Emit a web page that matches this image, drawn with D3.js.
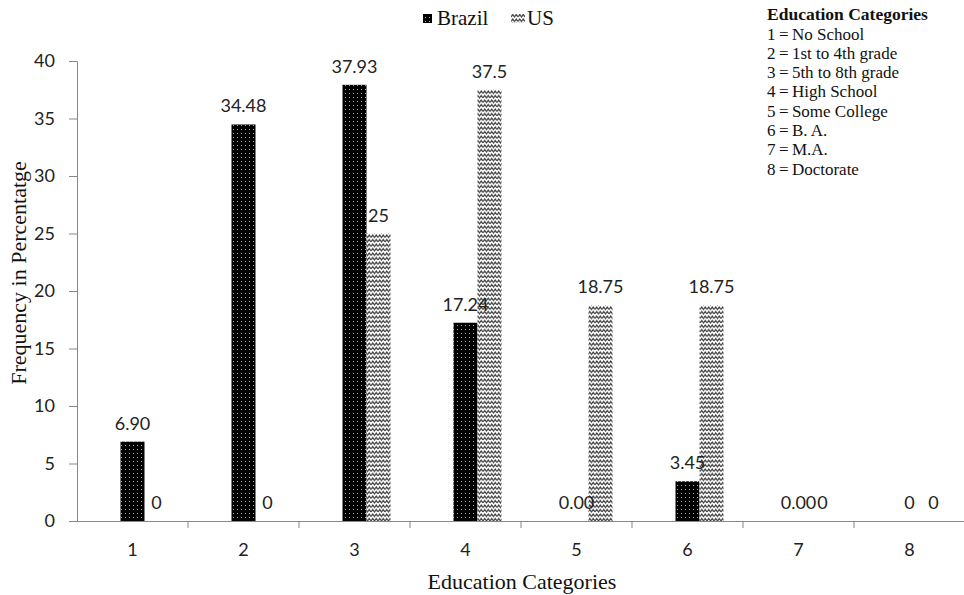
<!DOCTYPE html>
<html>
<head>
<meta charset="utf-8">
<script src="https://cdn.jsdelivr.net/npm/d3@7"></script>
<style>
  html, body { margin: 0; padding: 0; background: #fff; }
  svg { display: block; }
</style>
</head>
<body>
<svg id="chart" width="964" height="595"></svg>
<script>
// ---- data ----
const categories = ["1", "2", "3", "4", "5", "6", "7", "8"];
const brazil = [6.90, 34.48, 37.93, 17.24, 0.00, 3.45, 0.00, 0];
const us = [0, 0, 25, 37.5, 18.75, 18.75, 0, 0];
const brazilLabels = ["6.90", "34.48", "37.93", "17.24", "0.00", "3.45", "0.00", "0"];
const usLabels = ["0", "0", "25", "37.5", "18.75", "18.75", "0", "0"];
const yTicks = [0, 5, 10, 15, 20, 25, 30, 35, 40];
const seriesNames = ["Brazil", "US"];
const keyTitle = "Education Categories";
const keyLines = ["1\u2009=\u2009No School", "2\u2009=\u20091st to 4th grade", "3\u2009=\u20095th to 8th grade",
  "4\u2009=\u2009High School", "5\u2009=\u2009Some College", "6\u2009=\u2009B.  A.", "7\u2009=\u2009M.A.", "8\u2009=\u2009Doctorate"];

const svg = d3.select("#chart");
const sans = "Lato, 'Open Sans', sans-serif";
const serif = "'Liberation Serif', 'Times New Roman', serif";

// ---- patterns ----
const defs = svg.append("defs");
const pb = defs.append("pattern").attr("id", "pBrazil").attr("patternUnits", "userSpaceOnUse")
  .attr("width", 4).attr("height", 4);
pb.append("rect").attr("width", 4).attr("height", 4).attr("fill", "#000");
pb.append("rect").attr("x", 1).attr("y", 1).attr("width", 1).attr("height", 1).attr("fill", "#b0b0b0");

const pu = defs.append("pattern").attr("id", "pUS").attr("patternUnits", "userSpaceOnUse")
  .attr("width", 7).attr("height", 4.5);
pu.append("rect").attr("width", 7).attr("height", 4.5).attr("fill", "#fff");
pu.append("path").attr("d", "M0,3.4 L1.75,1 L3.5,3.4 L5.25,1 L7,3.4")
  .attr("fill", "none").attr("stroke", "#3a3a3a").attr("stroke-width", 1.2);

// ---- scales ----
const x0 = d3.scaleBand().domain(categories).range([77, 965]).padding(0);
// Excel-style cluster with an empty leading slot
const x1 = d3.scaleBand().domain(["_", "Brazil", "US"]).range([0, x0.bandwidth()]).paddingOuter(0.8125).paddingInner(0);
const y = d3.scaleLinear().domain([0, 40]).range([521, 61]);

// ---- axes ----
const axisColor = "#878787";
const yAxis = svg.append("g").attr("transform", "translate(77,0)")
  .call(d3.axisLeft(y).tickValues(yTicks).tickSize(8).tickPadding(14));
yAxis.select(".domain").attr("stroke", axisColor);
yAxis.selectAll(".tick line").attr("stroke", axisColor);
yAxis.selectAll(".tick text").attr("font-family", sans).attr("font-size", 18).attr("fill", "#222");

// bars
const g = svg.append("g");
categories.forEach((c, i) => {
  const bx = x0(c) + x1("Brazil");
  const ux = x0(c) + x1("US");
  g.append("rect").attr("x", bx).attr("y", y(brazil[i])).attr("width", x1.bandwidth())
    .attr("height", y(0) - y(brazil[i])).attr("fill", "url(#pBrazil)");
  g.append("rect").attr("x", ux).attr("y", y(us[i])).attr("width", x1.bandwidth())
    .attr("height", y(0) - y(us[i])).attr("fill", "url(#pUS)");
});

const xAxis = svg.append("g").attr("transform", "translate(0,521)")
  .call(d3.axisBottom(x0).tickSize(0).tickPadding(22));
xAxis.select(".domain").attr("stroke", axisColor);
xAxis.selectAll(".tick text").attr("font-family", sans).attr("font-size", 18).attr("fill", "#222");
// category boundary tick marks
svg.append("g").selectAll("line").data(categories.slice(1)).join("line")
  .attr("x1", d => x0(d)).attr("x2", d => x0(d)).attr("y1", 521).attr("y2", 528)
  .attr("stroke", axisColor);

// data labels
const lab = svg.append("g").attr("font-family", sans).attr("font-size", 18).attr("fill", "#222")
  .attr("text-anchor", "middle");
categories.forEach((c, i) => {
  lab.append("text").attr("x", x0(c) + x1("Brazil") + x1.bandwidth() / 2).attr("y", y(brazil[i]) - 12)
    .text(brazilLabels[i]);
  lab.append("text").attr("x", x0(c) + x1("US") + x1.bandwidth() / 2).attr("y", y(us[i]) - 12)
    .text(usLabels[i]);
});

// axis titles
svg.append("text").attr("x", 522).attr("y", 589).attr("text-anchor", "middle")
  .attr("font-family", serif).attr("font-size", 22).attr("fill", "#111").text("Education Categories");
svg.append("text").attr("transform", "translate(26,273) rotate(-90)").attr("text-anchor", "middle")
  .attr("font-family", serif).attr("font-size", 22).attr("fill", "#111").text("Frequency in Percentatge");

// legend
const leg = svg.append("g");
leg.append("rect").attr("x", 423).attr("y", 14).attr("width", 9).attr("height", 9).attr("fill", "url(#pBrazil)");
leg.append("text").attr("x", 437).attr("y", 25).attr("font-family", serif).attr("font-size", 21)
  .attr("fill", "#111").text(seriesNames[0]);
leg.append("rect").attr("x", 511).attr("y", 14).attr("width", 14).attr("height", 9).attr("fill", "url(#pUS)");
leg.append("text").attr("x", 527).attr("y", 25).attr("font-family", serif).attr("font-size", 21)
  .attr("fill", "#111").text(seriesNames[1]);

// category key
const key = svg.append("g").attr("font-family", serif).attr("fill", "#111");
key.append("text").attr("x", 767).attr("y", 20).attr("font-size", 17.5).attr("font-weight", "bold").text(keyTitle);
key.selectAll("text.k").data(keyLines).join("text").attr("class", "k")
  .attr("x", 767).attr("y", (d, i) => 39.5 + i * 19.3).attr("font-size", 17).text(d => d);
</script>
</body>
</html>
